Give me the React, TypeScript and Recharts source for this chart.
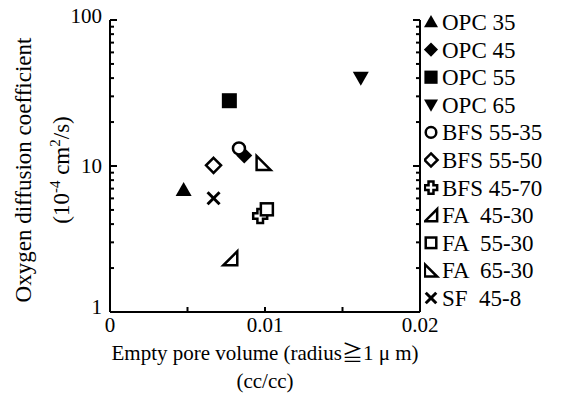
import React from 'react';
import { ScatterChart, Scatter, XAxis, YAxis } from 'recharts';

// ---- data ----
const seriesNames = ['OPC 35', 'OPC 45', 'OPC 55', 'OPC 65', 'BFS 55-35', 'BFS 55-50', 'BFS 45-70', 'FA  45-30', 'FA  55-30', 'FA  65-30', 'SF  45-8'];
const poreVolume = [0.00475, 0.00866, 0.0077, 0.01618, 0.00832, 0.00668, 0.00969, 0.00776, 0.01012, 0.00991, 0.00668];
const diffusionCoef = [6.85, 11.8, 28.0, 40.3, 13.2, 10.1, 4.54, 2.33, 5.05, 10.5, 6.01];
const markerKinds = ['triUp', 'diamondFilled', 'squareFilled', 'triDown', 'circle', 'diamond', 'plus', 'triBR', 'square', 'triBL', 'cross'];

const xTicks = [0, 0.005, 0.01, 0.015, 0.02];
const xTickLabels: Record<string, string> = { '0': '0', '0.01': '0.01', '0.02': '0.02' };
const yTicks = [1, 2, 3, 4, 5, 6, 7, 8, 9, 10, 20, 30, 40, 50, 60, 70, 80, 90, 100];
const yTickLabels: Record<string, string> = { '1': '1', '10': '10', '100': '100' };

const xTitle = 'Empty pore volume (radius\u22671 \u03bc m)';
const xTitle2 = '(cc/cc)';
const yTitle = 'Oxygen diffusion coefficient';

const FONT = '"Liberation Serif", "Times New Roman", serif';
const FS = 21;

function drawMarker(kind: string, cx: number, cy: number, k = 1) {
  const sw = 2.5;
  const s = (v: number) => v * k;
  switch (kind) {
    case 'triUp':
      return <polygon points={`${cx - s(8)},${cy + s(6)} ${cx + s(8)},${cy + s(6)} ${cx},${cy - s(8)}`} fill="#000" />;
    case 'triDown':
      return <polygon points={`${cx - s(8)},${cy - s(6)} ${cx + s(8)},${cy - s(6)} ${cx},${cy + s(8)}`} fill="#000" />;
    case 'diamondFilled':
      return <polygon points={`${cx},${cy - s(8)} ${cx + s(8)},${cy} ${cx},${cy + s(8)} ${cx - s(8)},${cy}`} fill="#000" />;
    case 'squareFilled':
      return <rect x={cx - s(7.5)} y={cy - s(7.5)} width={s(15)} height={s(15)} fill="#000" />;
    case 'circle':
      return <circle cx={cx} cy={cy} r={s(6)} fill="#fff" stroke="#000" strokeWidth={sw} />;
    case 'diamond':
      return <polygon points={`${cx},${cy - s(7.5)} ${cx + s(7.5)},${cy} ${cx},${cy + s(7.5)} ${cx - s(7.5)},${cy}`} fill="#fff" stroke="#000" strokeWidth={sw} />;
    case 'plus': {
      const a = s(2.8), b = s(7);
      const d = `M${cx - a},${cy - b} H${cx + a} V${cy - a} H${cx + b} V${cy + a} H${cx + a} V${cy + b} H${cx - a} V${cy + a} H${cx - b} V${cy - a} H${cx - a} Z`;
      return <path d={d} fill="#fff" stroke="#000" strokeWidth={sw} />;
    }
    case 'triBR':
      return <polygon points={`${cx - s(7)},${cy + s(7)} ${cx + s(7)},${cy + s(7)} ${cx + s(7)},${cy - s(7)}`} fill="#fff" stroke="#000" strokeWidth={sw} />;
    case 'triBL':
      return <polygon points={`${cx - s(7)},${cy - s(7)} ${cx - s(7)},${cy + s(7)} ${cx + s(7)},${cy + s(7)}`} fill="#fff" stroke="#000" strokeWidth={sw} />;
    case 'square':
      return <rect x={cx - s(6)} y={cy - s(6)} width={s(12)} height={s(12)} fill="#fff" stroke="#000" strokeWidth={sw} />;
    case 'cross':
      return (
        <g>
          <line x1={cx - s(6)} y1={cy - s(6)} x2={cx + s(6)} y2={cy + s(6)} stroke="#000" strokeWidth={3} />
          <line x1={cx - s(6)} y1={cy + s(6)} x2={cx + s(6)} y2={cy - s(6)} stroke="#000" strokeWidth={3} />
        </g>
      );
    default:
      return <g />;
  }
}

const isMajorY = (v: number) => yTickLabels[String(v)] !== undefined;

const YTickLeft = (props: any) => {
  const { x, y, payload } = props;
  const v = payload.value;
  const major = isMajorY(v);
  return (
    <g>
      <line x1={x} x2={x + (major ? 7 : 4)} y1={y} y2={y} stroke="#000" strokeWidth={2} />
      {major && (
        <text x={x - 8} y={y} dy={v === 1 ? '0.1em' : v === 100 ? '0.15em' : '0.35em'} textAnchor="end" fontFamily={FONT} fontSize={FS} fill="#000">
          {yTickLabels[String(v)]}
        </text>
      )}
    </g>
  );
};

const YTickRight = (props: any) => {
  const { x, y, payload } = props;
  const major = isMajorY(payload.value);
  return <line x1={x} x2={x - (major ? 7 : 4)} y1={y} y2={y} stroke="#000" strokeWidth={2} />;
};

const XTickBottom = (props: any) => {
  const { x, y, payload } = props;
  const label = xTickLabels[String(payload.value)];
  return (
    <g>
      <line x1={x} x2={x} y1={y} y2={y - 5} stroke="#000" strokeWidth={2} />
      {label !== undefined && (
        <text x={x} y={y + 20} textAnchor="middle" fontFamily={FONT} fontSize={FS} fill="#000">
          {label}
        </text>
      )}
    </g>
  );
};

const XTickTop = (props: any) => {
  const { x, y } = props;
  return <line x1={x} x2={x} y1={y} y2={y + 5} stroke="#000" strokeWidth={2} />;
};

const XTitle = (props: any) => {
  const vb = props.viewBox || { x: 110, y: 312, width: 310, height: 86 };
  const cx = vb.x + vb.width / 2;
  return (
    <g>
      <text x={cx} y={vb.y + 48} textAnchor="middle" fontFamily={`${FONT}, "Noto Sans CJK JP"`} fontSize={FS} fill="#000">
        {xTitle}
      </text>
      <text x={cx} y={vb.y + 76} textAnchor="middle" fontFamily={FONT} fontSize={FS} fill="#000">
        {xTitle2}
      </text>
    </g>
  );
};

const YTitle = (props: any) => {
  const vb = props.viewBox || { x: 0, y: 20, width: 110, height: 292 };
  const cy = vb.y + vb.height / 2 + 4;
  const x1 = 31;
  const x2 = 69;
  return (
    <g>
      <text x={x1} y={cy} transform={`rotate(-90 ${x1} ${cy})`} textAnchor="middle" fontFamily={FONT} fontSize={23} fill="#000">
        {yTitle}
      </text>
      <text x={x2} y={cy} transform={`rotate(-90 ${x2} ${cy})`} textAnchor="middle" fontFamily={FONT} fontSize={23} fill="#000">
        <tspan>(10</tspan>
        <tspan dy={-9} fontSize={15}>-4</tspan>
        <tspan dy={9}> cm</tspan>
        <tspan dy={-9} fontSize={15}>2</tspan>
        <tspan dy={9}>/s)</tspan>
      </text>
    </g>
  );
};

const LegendBox = () => (
  <svg width={160} height={320} style={{ position: 'absolute', left: 424, top: 0 }}>
    {seriesNames.map((name, i) => {
      const cy = 22 + i * 27.6;
      return (
        <g key={name}>
          {drawMarker(markerKinds[i], 7, cy, 0.88)}
          <text x={18} y={cy} dy="0.35em" fontFamily={FONT} fontSize={23} fill="#000" style={{ whiteSpace: 'pre' }}>
            {name}
          </text>
        </g>
      );
    })}
  </svg>
);

export default function App() {
  const axisLine = { stroke: '#000', strokeWidth: 2 };
  return (
    <div style={{ position: 'absolute', left: 0, top: 0, width: 584, height: 398 }}>
      <ScatterChart width={584} height={398} margin={{ top: 20, right: 0, bottom: 0, left: 0 }}>
        <XAxis
          type="number"
          dataKey="x"
          domain={[0, 0.02]}
          ticks={xTicks}
          interval={0}
          allowDataOverflow
          orientation="bottom"
          height={86}
          axisLine={axisLine}
          tickLine={false}
          tickSize={0}
          tickMargin={0}
          tick={<XTickBottom />}
          label={{ content: <XTitle /> } as any}
        />
        <XAxis
          xAxisId="top"
          type="number"
          domain={[0, 0.02]}
          ticks={xTicks}
          interval={0}
          allowDataOverflow
          orientation="top"
          height={0}
          axisLine={axisLine}
          tickLine={false}
          tickSize={0}
          tickMargin={0}
          tick={<XTickTop />}
        />
        <YAxis
          type="number"
          dataKey="y"
          scale="log"
          domain={[1, 100]}
          ticks={yTicks}
          interval={0}
          allowDataOverflow
          width={110}
          axisLine={axisLine}
          tickLine={false}
          tickSize={0}
          tickMargin={0}
          tick={<YTickLeft />}
          label={{ content: <YTitle /> } as any}
        />
        <YAxis
          yAxisId="right"
          orientation="right"
          type="number"
          scale="log"
          domain={[1, 100]}
          ticks={yTicks}
          interval={0}
          allowDataOverflow
          width={164}
          axisLine={axisLine}
          tickLine={false}
          tickSize={0}
          tickMargin={0}
          tick={<YTickRight />}
        />
        {seriesNames.map((name, i) => (
          <Scatter
            key={name}
            name={name}
            data={[{ x: poreVolume[i], y: diffusionCoef[i] }]}
            isAnimationActive={false}
            shape={(p: any) => drawMarker(markerKinds[i], p.cx, p.cy)}
          />
        ))}
      </ScatterChart>
      <LegendBox />
    </div>
  );
}
